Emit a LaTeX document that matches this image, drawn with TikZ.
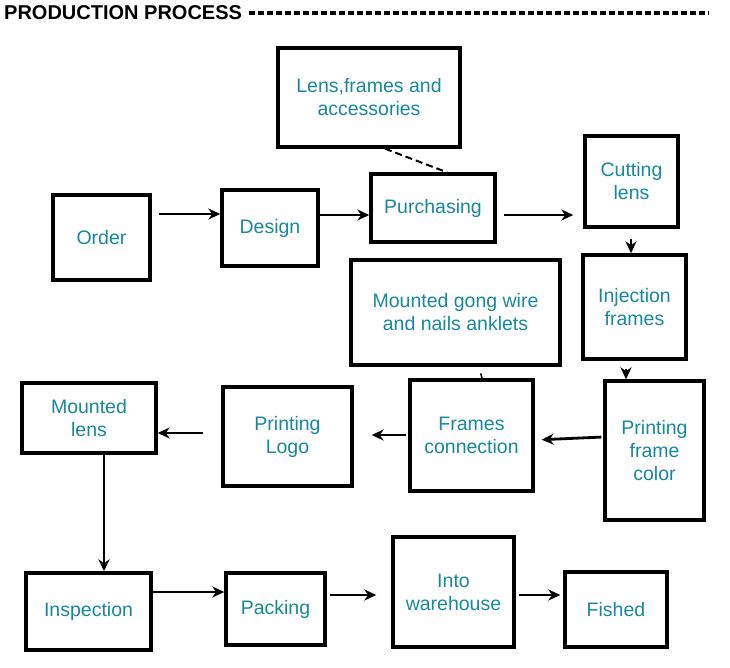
\documentclass[tikz,border=0pt]{standalone}
\usepackage{fontspec}
\setmainfont{Liberation Sans}
\usepackage{tikz}
\usetikzlibrary{arrows.meta,positioning}
\definecolor{boxteal}{RGB}{24,136,158}

\begin{document}
\begin{tikzpicture}[x=1pt,y=-1pt,
  procbox/.style={draw, line width=3.4pt, text=boxteal, align=center, inner sep=0pt, font=\fontsize{19.5}{23}\selectfont},
  flow/.style={-{Stealth[length=12pt,width=11pt]}, line width=2.8pt}]
\useasboundingbox[fill=white] (0,0) rectangle (730,668);
% Title
\node[anchor=west, inner sep=0pt, font=\fontsize{20}{22}\selectfont\bfseries] (title) at (4,13) {PRODUCTION PROCESS};
\draw[line width=4pt, dash pattern=on 6pt off 3pt, shorten <=7pt] (title.east) -- (title.east -| 709,0);
% Top row
\node[procbox, minimum width=182, minimum height=99] (lensbox) at (369,97.5) {Lens,frames and\\accessories};
\node[procbox, minimum width=97, minimum height=85] (order) at (101.5,237.5) {Order};
\node[procbox, minimum width=96, minimum height=76] (design) at (270,228) {Design};
\node[procbox, minimum width=124, minimum height=68] (purch) at (433,208) {Purchasing};
\node[procbox, minimum width=93, minimum height=91] (cutting) at (631.5,181.5) {Cutting\\lens};
% Middle rows
\node[procbox, minimum width=103, minimum height=104] (inject) at (634.5,307) {Injection\\frames};
\node[procbox, minimum width=209, minimum height=105] (gong) at (455.5,312.5) {Mounted gong wire\\and nails anklets};
\node[procbox, minimum width=134, minimum height=70] (mlens) at (89,418) {Mounted\\lens};
\node[procbox, minimum width=129, minimum height=99] (logo) at (287.5,436.5) {Printing\\Logo};
\node[procbox, minimum width=123, minimum height=111] (frconn) at (471.5,435.5) {Frames\\connection};
\node[procbox, minimum width=99, minimum height=139] (color) at (654.5,450.5) {Printing\\frame\\color};
% Bottom row
\node[procbox, minimum width=125, minimum height=77] (insp) at (88.5,611.5) {Inspection};
\node[procbox, minimum width=99, minimum height=72] (pack) at (275.5,609) {Packing};
\node[procbox, minimum width=121, minimum height=110] (store) at (453.5,592) {Into\\warehouse};
\node[procbox, minimum width=102, minimum height=75] (fished) at (616,609.5) {Fished};
% Arrows
\draw[flow, shorten <=7pt] (order.east |- 0,214) -- (design.west |- 0,214);
\draw[flow] (design.east |- 0,215) -- (purch.west |- 0,215);
\draw[flow, shorten <=7pt, shorten >=10pt] (purch.east |- 0,215) -- (cutting.west |- 0,215);
\draw[flow, shorten <=10pt] (631,0 |- cutting.south) -- (631,0 |- inject.north);
\draw[flow, shorten <=8pt] (626,0 |- inject.south) -- (626,0 |- color.north);
\draw[flow, shorten <=2pt, shorten >=7pt] (color.west |- 0,437) -- (frconn.east |- 0,440);
\draw[flow, shorten <=2pt, shorten >=18pt] (frconn.west |- 0,435) -- (logo.east |- 0,435);
\draw[flow, shorten <=18pt] (logo.west |- 0,433) -- (mlens.east |- 0,433);
\draw[flow] (104,0 |- mlens.south) -- (104,0 |- insp.north);
\draw[flow] (insp.east |- 0,592) -- (pack.west |- 0,592);
\draw[flow, shorten <=3pt, shorten >=15pt] (pack.east |- 0,595) -- (store.west |- 0,595);
\draw[flow, shorten <=3pt, shorten >=3pt] (store.east |- 0,595) -- (fished.west |- 0,595);
% Links
\draw[line width=2pt, dash pattern=on 7pt off 4pt] (385,0 |- lensbox.south) -- (447,0 |- purch.north);
\draw[line width=1.5pt, shorten <=7pt] (479,0 |- gong.south) -- (482,0 |- frconn.north);
\end{tikzpicture}
\end{document}
